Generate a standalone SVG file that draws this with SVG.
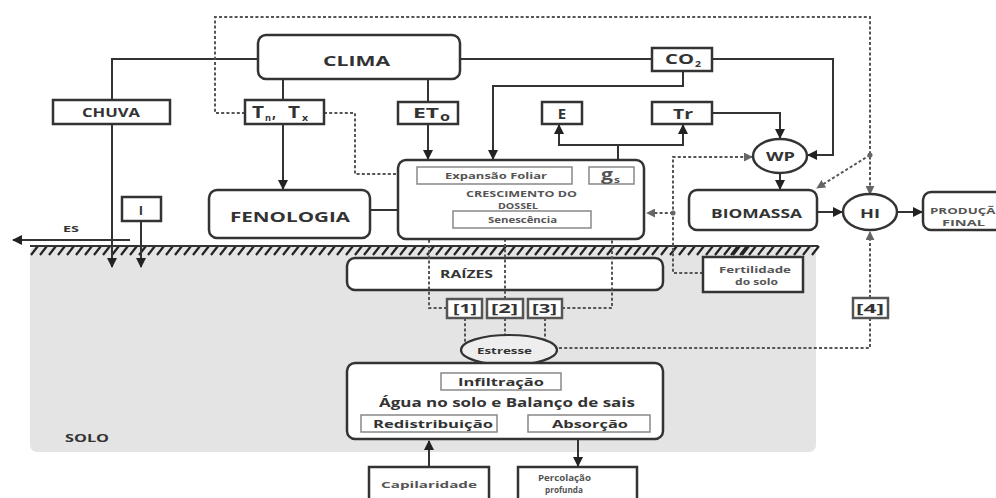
<svg xmlns="http://www.w3.org/2000/svg" width="996" height="498" viewBox="0 0 996 498">
<style>
text{font-family:"Open Sans","Liberation Sans",sans-serif;font-weight:bold;fill:#333}
.box{fill:#fff;stroke:#333;stroke-width:2.5}
.in{fill:none;stroke:#888;stroke-width:1.5}
.sm{fill:#555}
.c{fill:none;stroke:#333;stroke-width:2}
.d{fill:none;stroke:#555;stroke-width:2;stroke-dasharray:3 2.2}
.num{fill:#fff;stroke:#555;stroke-width:2.5}
.hz{stroke:#222;stroke-width:2.2}
</style>
<defs>
<marker id="a" viewBox="0 0 10 10" refX="9" refY="5" markerWidth="10" markerHeight="10" markerUnits="userSpaceOnUse" orient="auto"><path d="M0,0 L10,5 L0,10 z" fill="#222"/></marker>
<marker id="g" viewBox="0 0 10 10" refX="9" refY="5" markerWidth="9" markerHeight="9" markerUnits="userSpaceOnUse" orient="auto"><path d="M0,0 L10,5 L0,10 z" fill="#666"/></marker>
<path id="h10" d="M0,9 L7,0 M9,9 L16,0 M18,9 L25,0 M27,9 L34,0 M36,9 L43,0 M45,9 L52,0 M54,9 L61,0 M63,9 L70,0 M72,9 L79,0 M81,9 L88,0" class="hz"/>
</defs>

<g id="soil">
<rect x="30" y="246" width="786" height="206" rx="7" fill="#e4e4e4"/>
<use href="#h10" x="31" y="246"/>
<use href="#h10" x="121" y="246"/>
<use href="#h10" x="211" y="246"/>
<use href="#h10" x="301" y="246"/>
<use href="#h10" x="391" y="246"/>
<use href="#h10" x="481" y="246"/>
<use href="#h10" x="571" y="246"/>
<use href="#h10" x="661" y="246"/>
<use href="#h10" x="731" y="246"/>
<line x1="30" y1="246" x2="818" y2="246" stroke="#333" stroke-width="2"/>
<text x="65" y="442" font-size="10" textLength="44" lengthAdjust="spacingAndGlyphs">SOLO</text>
<text x="63" y="232" font-size="8" textLength="16" lengthAdjust="spacingAndGlyphs">ES</text>
</g>

<g id="raizes">
<rect class="box" x="347" y="258" width="316" height="32" rx="8"/>
<text x="440" y="278" font-size="11" textLength="53" lengthAdjust="spacingAndGlyphs">RAÍZES</text>
</g>

<g id="connectors">
<path class="c" d="M258,59 H112 V100"/>
<path class="c" d="M112,124 V267" marker-end="url(#a)"/>
<path class="c" d="M141,221 V267" marker-end="url(#a)"/>
<path class="c" d="M130,240 H13" marker-end="url(#a)"/>
<path class="c" d="M283,79 V100"/>
<path class="c" d="M283,124 V189" marker-end="url(#a)"/>
<path class="c" d="M428,79 V102"/>
<path class="c" d="M428,124 V159" marker-end="url(#a)"/>
<path class="c" d="M460,59 H652"/>
<path class="c" d="M683,71 V86 H493 V159" marker-end="url(#a)"/>
<path class="c" d="M712,59 H833 V155 H808" marker-end="url(#a)"/>
<path class="c" d="M618,160 V145 H559 V125" marker-end="url(#a)"/>
<path class="c" d="M618,145 H683 V125" marker-end="url(#a)"/>
<path class="c" d="M712,113 H780 V138" marker-end="url(#a)"/>
<path class="c" d="M780,173 V189" marker-end="url(#a)"/>
<path class="c" d="M817,212 H842" marker-end="url(#a)"/>
<path class="c" d="M897,212 H922" marker-end="url(#a)"/>
<path class="c" d="M370,210 H398"/>
<path class="c" d="M429,467 V441" marker-end="url(#a)"/>
<path class="c" d="M578,439 V466" marker-end="url(#a)"/>

<path class="d" d="M245,113 H215 V17 H870 V194" marker-end="url(#g)"/>
<path class="d" d="M324,113 H355 V174 H416" marker-end="url(#g)"/>
<path class="d" d="M870,155 L817,188" marker-end="url(#g)"/>
<circle cx="870" cy="155" r="2.5" fill="#666"/>
<path class="d" d="M870,298 V232" marker-end="url(#g)"/>
<path class="d" d="M870,318 V348 H557"/>
<path class="d" d="M703,273 H673 V157 H752" marker-end="url(#g)"/>
<path class="d" d="M673,213 H647" marker-end="url(#g)"/>
<circle cx="673" cy="213" r="2.5" fill="#666"/>
<path class="d" d="M447,308 H429 V186" marker-end="url(#g)"/>
<path class="d" d="M505,299 V229" marker-end="url(#g)"/>
<path class="d" d="M562,308 H612 V186" marker-end="url(#g)"/>
<path class="d" d="M465,318 V343"/>
<path class="d" d="M505,318 V336"/>
<path class="d" d="M545,318 V343"/>
</g>

<g id="clima">
<rect class="box" x="258" y="35" width="202" height="44" rx="8"/>
<text x="323" y="66" font-size="15" textLength="67" lengthAdjust="spacingAndGlyphs">CLIMA</text>
</g>
<g id="chuva">
<rect class="box" x="53" y="100" width="117" height="24"/>
<text x="82" y="117" font-size="12" textLength="58" lengthAdjust="spacingAndGlyphs">CHUVA</text>
</g>
<g id="tntx">
<rect class="box" x="245" y="100" width="79" height="24"/>
<text x="252" y="118" font-size="16" textLength="12" lengthAdjust="spacingAndGlyphs">T</text>
<text x="265" y="121" font-size="9" textLength="6" lengthAdjust="spacingAndGlyphs">n</text>
<text x="272" y="118" font-size="16" textLength="4" lengthAdjust="spacingAndGlyphs">,</text>
<text x="288" y="118" font-size="16" textLength="12" lengthAdjust="spacingAndGlyphs">T</text>
<text x="302" y="121" font-size="9" textLength="6" lengthAdjust="spacingAndGlyphs">x</text>
</g>
<g id="eto">
<rect class="box" x="398" y="102" width="60" height="22"/>
<text x="413" y="118" font-size="15" textLength="26" lengthAdjust="spacingAndGlyphs">ET</text>
<text x="440" y="121" font-size="12" textLength="10" lengthAdjust="spacingAndGlyphs">o</text>
</g>
<g id="co2">
<rect class="box" x="652" y="48" width="60" height="23"/>
<text x="665" y="64" font-size="14" textLength="29" lengthAdjust="spacingAndGlyphs">CO</text>
<text x="695" y="67" font-size="9" textLength="6" lengthAdjust="spacingAndGlyphs">2</text>
</g>
<g id="e">
<rect class="box" x="542" y="102" width="40" height="22"/>
<text x="562" y="119" font-size="15" text-anchor="middle">E</text>
</g>
<g id="tr">
<rect class="box" x="652" y="102" width="60" height="22"/>
<text x="673" y="119" font-size="15" textLength="20" lengthAdjust="spacingAndGlyphs">Tr</text>
</g>
<g id="wp">
<ellipse cx="780" cy="156" rx="27" ry="17" class="box"/>
<text x="766" y="161" font-size="13" textLength="29" lengthAdjust="spacingAndGlyphs">WP</text>
</g>
<g id="biomassa">
<rect class="box" x="689" y="190" width="128" height="40" rx="8"/>
<text x="711" y="218" font-size="13" textLength="91" lengthAdjust="spacingAndGlyphs">BIOMASSA</text>
</g>
<g id="hi">
<ellipse cx="870" cy="212" rx="27" ry="18" class="box"/>
<text x="860" y="218" font-size="13" textLength="20" lengthAdjust="spacingAndGlyphs">HI</text>
</g>
<g id="producao">
<rect class="box" x="923" y="192" width="92" height="38" rx="8"/>
<text x="930" y="214" font-size="9.5" textLength="76" lengthAdjust="spacingAndGlyphs" class="sm">PRODUÇÃO</text>
<text x="942" y="226" font-size="9.5" textLength="43" lengthAdjust="spacingAndGlyphs" class="sm">FINAL</text>
</g>
<g id="fenologia">
<rect class="box" x="209" y="190" width="161" height="48" rx="8"/>
<text x="230" y="222" font-size="14" textLength="120" lengthAdjust="spacingAndGlyphs">FENOLOGIA</text>
</g>
<g id="irrigacao">
<rect class="box" x="122" y="197" width="39" height="24"/>
<text x="141" y="215" font-size="13" text-anchor="middle">I</text>
</g>
<g id="dossel">
<rect class="box" x="398" y="160" width="246" height="79" rx="8"/>
<rect class="in" x="417" y="167" width="155" height="17"/>
<text x="445" y="179" font-size="9" textLength="102" lengthAdjust="spacingAndGlyphs" class="sm">Expansão Foliar</text>
<rect class="in" x="589" y="167" width="45" height="17"/>
<text x="601" y="180" font-size="16" textLength="12" lengthAdjust="spacingAndGlyphs" class="sm">g</text>
<text x="614" y="183" font-size="9" textLength="6" lengthAdjust="spacingAndGlyphs" class="sm">s</text>
<text x="466" y="196.5" font-size="8.5" textLength="111" lengthAdjust="spacingAndGlyphs" class="sm">CRESCIMENTO DO</text>
<text x="498" y="208.5" font-size="8.5" textLength="40" lengthAdjust="spacingAndGlyphs" class="sm">DOSSEL</text>
<rect class="in" x="453" y="211" width="138" height="17" fill="#fff"/>
<text x="488" y="223" font-size="8" textLength="69" lengthAdjust="spacingAndGlyphs" class="sm">Senescência</text>
</g>
<g id="n1">
<rect class="num" x="447" y="299" width="35" height="19"/>
<text x="453" y="313" font-size="12" textLength="24" lengthAdjust="spacingAndGlyphs">[1]</text>
</g>
<g id="n2">
<rect class="num" x="487" y="299" width="36" height="19"/>
<text x="491" y="313" font-size="12" textLength="27" lengthAdjust="spacingAndGlyphs">[2]</text>
</g>
<g id="n3">
<rect class="num" x="528" y="299" width="34" height="19"/>
<text x="532" y="313" font-size="12" textLength="25" lengthAdjust="spacingAndGlyphs">[3]</text>
</g>
<g id="n4">
<rect class="num" x="853" y="298" width="35" height="20"/>
<text x="856" y="313" font-size="12" textLength="28" lengthAdjust="spacingAndGlyphs">[4]</text>
</g>
<g id="estresse">
<ellipse cx="509" cy="350" rx="48" ry="15" fill="#eee" stroke="#333" stroke-width="2.2"/>
<text x="477" y="354" font-size="9" textLength="55" lengthAdjust="spacingAndGlyphs">Estresse</text>
</g>
<g id="agua">
<rect class="box" x="347" y="363" width="316" height="76" rx="8"/>
<rect class="in" x="441" y="373" width="120" height="17"/>
<text x="458" y="386" font-size="11" textLength="86" lengthAdjust="spacingAndGlyphs">Infiltração</text>
<text x="379" y="407" font-size="12" textLength="256" lengthAdjust="spacingAndGlyphs">Água no solo e Balanço de sais</text>
<rect class="in" x="361" y="415" width="136" height="17"/>
<text x="373" y="428" font-size="11" textLength="120" lengthAdjust="spacingAndGlyphs">Redistribuição</text>
<rect class="in" x="528" y="415" width="122" height="17"/>
<text x="552" y="428" font-size="11" textLength="76" lengthAdjust="spacingAndGlyphs">Absorção</text>
</g>
<g id="fertilidade">
<rect class="box" x="703" y="257" width="100" height="35"/>
<text x="719" y="273" font-size="9" textLength="72" lengthAdjust="spacingAndGlyphs" class="sm">Fertilidade</text>
<text x="735" y="285" font-size="9" textLength="43" lengthAdjust="spacingAndGlyphs" class="sm">do solo</text>
</g>
<g id="capilaridade">
<rect class="box" x="369" y="467" width="120" height="40"/>
<text x="381" y="488" font-size="9" textLength="96" lengthAdjust="spacingAndGlyphs" class="sm">Capilaridade</text>
</g>
<g id="percolacao">
<rect class="box" x="518" y="467" width="119" height="40"/>
<text x="538" y="481" font-size="9" textLength="53" lengthAdjust="spacingAndGlyphs" class="sm">Percolação</text>
<text x="545" y="493" font-size="9" textLength="38" lengthAdjust="spacingAndGlyphs" class="sm">profunda</text>
</g>
</svg>
